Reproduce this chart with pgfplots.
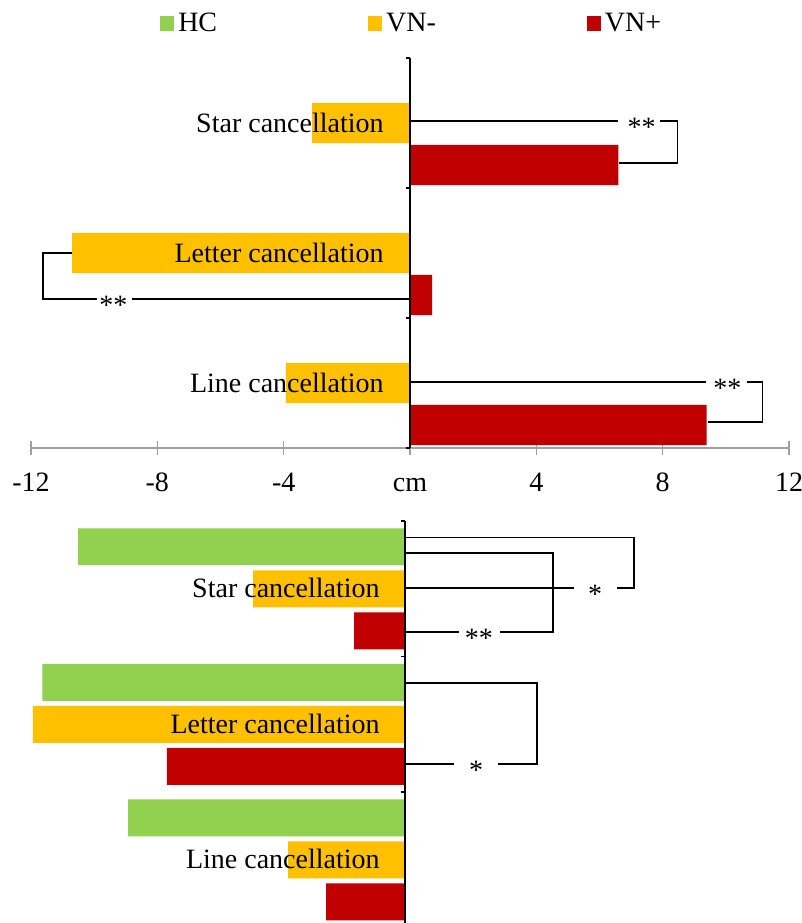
\documentclass[border=0pt]{standalone}
\usepackage{fontspec}
\setmainfont{Liberation Serif}
\usepackage{pgfplots}
\pgfplotsset{compat=1.18}
\definecolor{hc}{HTML}{92D050}
\definecolor{vnm}{HTML}{FFC000}
\definecolor{vnp}{HTML}{C00000}
\definecolor{axgray}{HTML}{A0A0A0}
\pgfplotsset{
  sqleg/.style={legend image code/.code={\fill[##1] (0bp,-3.75bp) rectangle (7bp,3.75bp);}},
}
\tikzset{brk/.style={black, line width=0.8bp}, vax/.style={black, line width=0.75bp},
  cat/.style={anchor=base east, inner sep=0pt, yshift=-4.6bp},
  sig/.style={inner sep=0pt, yshift=-3bp}}
\begin{document}
\begin{tikzpicture}[font=\fontsize{14bp}{16.8bp}\selectfont]
\useasboundingbox (0,0) rectangle (401bp,-461.5bp);
% ---------------- top panel ----------------
\begin{axis}[
  scale only axis, width=379bp, height=195bp,
  at={(15.5bp,-224bp)}, anchor=south west,
  xmin=-12, xmax=12, ymin=0, ymax=3,
  clip=false,
  hide y axis,
  axis x line*=bottom,
  x axis line style={axgray, line width=0.6bp},
  xtick={-12,-8,-4,0,4,8,12},
  xticklabels={\textrm{-12},\textrm{-8},\textrm{-4},\textrm{cm},\textrm{4},\textrm{8},\textrm{12}},
  tick align=center, major tick length=7bp,
  x tick style={axgray, line width=0.6bp},
  xticklabel style={anchor=base, yshift=-18bp},
  legend columns=3,
  legend style={draw=none, fill=none, at={(axis description cs:0.170,1.088)}, anchor=west,
    inner sep=0pt, column sep=2bp, nodes={inner sep=0pt},
    /tikz/every even column/.append style={column sep=75.5bp}},
  legend cell align=left,
  sqleg,
]
\addlegendimage{fill=hc, draw=none, sqleg}
\addplot[xbar, bar width=0.31, bar shift=0pt, fill=vnm, draw=none, sqleg]
  coordinates {(-3.10,2.5) (-10.70,1.5) (-3.93,0.5)};
\addplot[xbar, bar width=0.31, bar shift=0pt, fill=vnp, draw=none, sqleg]
  coordinates {(6.60,2.177) (0.70,1.177) (9.39,0.177)};
\legend{HC,VN-,VN+}
% category labels
\node[cat, xshift=-13bp] at (axis cs:0,2.5) {Star cancellation};
\node[cat, xshift=-13bp] at (axis cs:0,1.5) {Letter cancellation};
\node[cat, xshift=-13bp] at (axis cs:0,0.5) {Line cancellation};
% brackets
\draw[brk] (axis cs:0,2.515) -- (axis cs:6.60,2.515);
\node[sig] at (axis cs:7.33,2.515) {**};
\draw[brk] (axis cs:7.93,2.515) -- (axis cs:8.47,2.515) -- (axis cs:8.47,2.192) -- (axis cs:6.63,2.192);
\draw[brk] (axis cs:-10.69,1.5) -- (axis cs:-11.62,1.5) -- (axis cs:-11.62,1.146) -- (axis cs:-9.90,1.146);
\node[sig] at (axis cs:-9.39,1.146) {**};
\draw[brk] (axis cs:-8.79,1.146) -- (axis cs:0,1.146);
\draw[brk] (axis cs:0,0.508) -- (axis cs:9.36,0.508);
\node[sig] at (axis cs:10.05,0.508) {**};
\draw[brk] (axis cs:10.66,0.508) -- (axis cs:11.16,0.508) -- (axis cs:11.16,0.2) -- (axis cs:9.45,0.2);
% vertical axis
\draw[vax] (axis cs:0,0) -- (axis cs:0,3);
\draw[vax] (axis cs:-0.127,0) -- (axis cs:0,0);
\draw[vax] (axis cs:-0.127,1) -- (axis cs:0,1);
\draw[vax] (axis cs:-0.127,2) -- (axis cs:0,2);
\draw[vax] (axis cs:-0.127,3) -- (axis cs:0,3);
\end{axis}
% ---------------- bottom panel ----------------
\begin{axis}[
  scale only axis, width=379bp, height=203.25bp,
  at={(13bp,-463.75bp)}, anchor=south west,
  xmin=-12, xmax=12, ymin=0, ymax=3,
  clip=false, hide axis,
]
\addplot[xbar, bar width=0.273, bar shift=0pt, fill=hc, draw=none]
  coordinates {(-10.35,2.81) (-11.48,1.81) (-8.77,0.81)};
\addplot[xbar, bar width=0.273, bar shift=0pt, fill=vnm, draw=none]
  coordinates {(-4.81,2.5) (-11.78,1.5) (-3.70,0.5)};
\addplot[xbar, bar width=0.273, bar shift=0pt, fill=vnp, draw=none]
  coordinates {(-1.61,2.19) (-7.54,1.19) (-2.50,0.19)};
\node[cat, xshift=-12.5bp] at (axis cs:0,2.5) {Star cancellation};
\node[cat, xshift=-12.5bp] at (axis cs:0,1.5) {Letter cancellation};
\node[cat, xshift=-12.5bp] at (axis cs:0,0.5) {Line cancellation};
% brackets
\draw[brk] (axis cs:0,2.878) -- (axis cs:7.25,2.878) -- (axis cs:7.25,2.506) -- (axis cs:6.71,2.506);
\node[sig] at (axis cs:6.02,2.506) {*};
\draw[brk] (axis cs:5.35,2.506) -- (axis cs:0,2.506);
\draw[brk] (axis cs:0,2.764) -- (axis cs:4.69,2.764) -- (axis cs:4.69,2.181) -- (axis cs:3.01,2.181);
\node[sig] at (axis cs:2.34,2.181) {**};
\draw[brk] (axis cs:1.71,2.181) -- (axis cs:0,2.181);
\draw[brk] (axis cs:0,1.804) -- (axis cs:4.18,1.804) -- (axis cs:4.18,1.207) -- (axis cs:2.94,1.207);
\node[sig] at (axis cs:2.25,1.207) {*};
\draw[brk] (axis cs:1.55,1.207) -- (axis cs:0,1.207);
% vertical axis
\draw[vax] (axis cs:0,0) -- (axis cs:0,3);
\draw[vax] (axis cs:-0.127,1) -- (axis cs:0,1);
\draw[vax] (axis cs:-0.127,2) -- (axis cs:0,2);
\draw[vax] (axis cs:-0.127,3) -- (axis cs:0,3);
\end{axis}
\end{tikzpicture}
\end{document}
